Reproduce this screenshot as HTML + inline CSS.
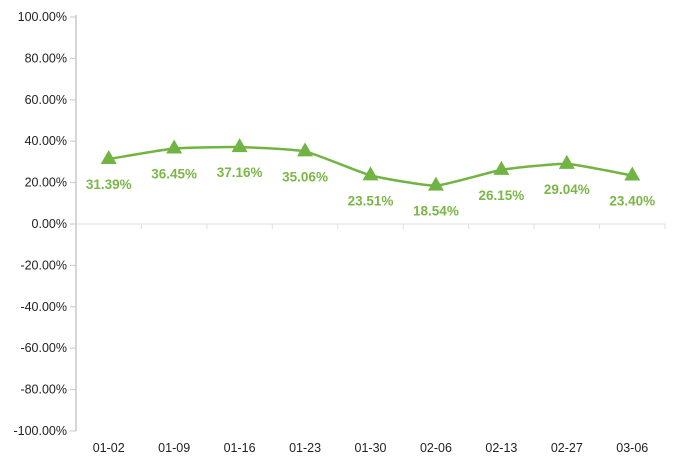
<!DOCTYPE html>
<html><head><meta charset="utf-8"><style>
body{margin:0;background:#fff}
svg{display:block;font-family:"Liberation Sans",sans-serif}
</style></head><body>
<svg width="676" height="465">
<g id="yaxis"></g>
<g id="xaxis"></g>
<g id="series"></g>
</svg>
<script>
const categories=["01-02","01-09","01-16","01-23","01-30","02-06","02-13","02-27","03-06"];
const values=[31.39,36.45,37.16,35.06,23.51,18.54,26.15,29.04,23.40];
const yTicks=[100,80,60,40,20,0,-20,-40,-60,-80,-100];
const NS="http://www.w3.org/2000/svg";
const plotLeft=76,plotRight=665,plotTop=17,plotBottom=431;
const yScale=v=>plotTop+(100-v)/200*(plotBottom-plotTop);
const band=(plotRight-plotLeft)/categories.length;
const xScale=i=>plotLeft+band*(i+0.5);
function el(t,a,p){const e=document.createElementNS(NS,t);for(const k in a)e.setAttribute(k,a[k]);p.appendChild(e);return e;}
const ya=document.getElementById('yaxis'),xa=document.getElementById('xaxis'),se=document.getElementById('series');
const ax=el('line',{x1:plotLeft,x2:plotLeft,y1:plotTop-2,y2:plotBottom,stroke:'#c8c8c8','stroke-width':1.5},ya);


yTicks.forEach(v=>{
 const t=el('line',{x1:plotLeft-6,x2:plotLeft,y1:yScale(v),y2:yScale(v),stroke:'#c8c8c8'},ya);
 
 
 const l=el('text',{x:plotLeft-9,y:yScale(v)+4,'text-anchor':'end','font-size':12.5,fill:'#222'},ya);
 l.textContent=v.toFixed(2)+'%';
 
 
});
const zl=el('line',{x1:plotLeft,x2:plotRight,y1:yScale(0),y2:yScale(0),stroke:'#e0e0e0'},xa);


for(let i=1;i<=categories.length;i++){
 const t=el('line',{x1:plotLeft+band*i,x2:plotLeft+band*i,y1:yScale(0),y2:yScale(0)+5,stroke:'#e0e0e0'},xa);
 
 
}
categories.forEach((c,i)=>{
 const l=el('text',{x:xScale(i),y:452,'text-anchor':'middle','font-size':12.5,fill:'#222'},xa);
 l.textContent=c;
 
 
});
const pts=values.map((v,i)=>[xScale(i),yScale(v)]);
let d='M'+pts[0][0]+','+pts[0][1];
for(let i=0;i<pts.length-1;i++){
 const p0=pts[Math.max(0,i-1)],p1=pts[i],p2=pts[i+1],p3=pts[Math.min(pts.length-1,i+2)];
 const k=0.08;
 d+=` C${p1[0]+(p2[0]-p0[0])*k},${p1[1]+(p2[1]-p0[1])*k} ${p2[0]-(p3[0]-p1[0])*k},${p2[1]-(p3[1]-p1[1])*k} ${p2[0]},${p2[1]}`;
}
const path=el('path',{d:d,fill:'none',stroke:'#72b443','stroke-width':2.5},se);


pts.forEach((p,i)=>{
 const m=el('polygon',{points:`${p[0]},${p[1]-9} ${p[0]-8},${p[1]+5} ${p[0]+8},${p[1]+5}`,fill:'#72b443'},se);
 
 
 const l=el('text',{x:p[0],y:p[1]+30,'text-anchor':'middle','font-size':13.5,'font-weight':'bold',fill:'#7ab648'},se);
 l.textContent=values[i].toFixed(2)+'%';
 
 
});
</script>
</body></html>
